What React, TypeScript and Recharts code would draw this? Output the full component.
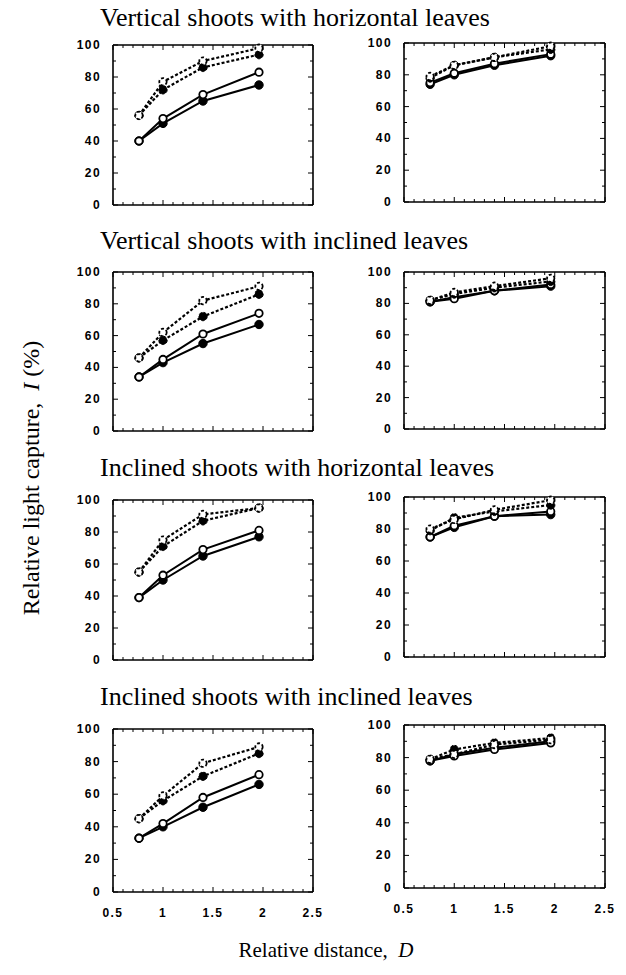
import React from "react";
import { LineChart, Line, XAxis, YAxis } from "recharts";

// relative distance D of the four simulated spacings
const distance = [0.76, 1.0, 1.4, 1.96];
const xTicks = [0.5, 0.6, 0.7, 0.8, 0.9, 1, 1.1, 1.2, 1.3, 1.4, 1.5, 1.6, 1.7, 1.8, 1.9, 2, 2.1, 2.2, 2.3, 2.4, 2.5];
const yTicks = [0, 10, 20, 30, 40, 50, 60, 70, 80, 90, 100];

const rowTitles = [
  "Vertical shoots with horizontal leaves",
  "Vertical shoots with inclined leaves",
  "Inclined shoots with horizontal leaves",
  "Inclined shoots with inclined leaves",
];

// row 1
const p1DashOpen = [56, 77, 90, 98];
const p1DashFilled = [56, 72, 86, 94];
const p1SolidOpen = [40, 54, 69, 83];
const p1SolidFilled = [40, 51, 65, 75];
const p2DashOpen = [79, 86, 91, 98];
const p2DashFilled = [78, 86, 91, 96];
const p2SolidOpen = [75, 81, 87, 93];
const p2SolidFilled = [74, 80, 86, 92];
// row 2
const p3DashOpen = [46, 62, 82, 91];
const p3DashFilled = [46, 57, 72, 86];
const p3SolidOpen = [34, 45, 61, 74];
const p3SolidFilled = [34, 43, 55, 67];
const p4DashOpen = [82, 87, 91, 96];
const p4DashFilled = [82, 86, 90, 94];
const p4SolidOpen = [81, 83, 88, 92];
const p4SolidFilled = [81, 84, 88, 91];
// row 3
const p5DashOpen = [55, 75, 91, 95];
const p5DashFilled = [55, 71, 87, 95];
const p5SolidOpen = [39, 53, 69, 81];
const p5SolidFilled = [39, 50, 65, 77];
const p6DashOpen = [80, 86, 92, 98];
const p6DashFilled = [79, 87, 91, 95];
const p6SolidOpen = [75, 82, 88, 91];
const p6SolidFilled = [75, 81, 88, 89];
// row 4
const p7DashOpen = [45, 59, 79, 89];
const p7DashFilled = [45, 56, 71, 85];
const p7SolidOpen = [33, 42, 58, 72];
const p7SolidFilled = [33, 40, 52, 66];
const p8DashOpen = [79, 82, 88, 91];
const p8DashFilled = [79, 85, 89, 92];
const p8SolidOpen = [78, 81, 85, 89];
const p8SolidFilled = [78, 82, 86, 90];

const panels = [
  [p1DashOpen, p1DashFilled, p1SolidOpen, p1SolidFilled],
  [p2DashOpen, p2DashFilled, p2SolidOpen, p2SolidFilled],
  [p3DashOpen, p3DashFilled, p3SolidOpen, p3SolidFilled],
  [p4DashOpen, p4DashFilled, p4SolidOpen, p4SolidFilled],
  [p5DashOpen, p5DashFilled, p5SolidOpen, p5SolidFilled],
  [p6DashOpen, p6DashFilled, p6SolidOpen, p6SolidFilled],
  [p7DashOpen, p7DashFilled, p7SolidOpen, p7SolidFilled],
  [p8DashOpen, p8DashFilled, p8SolidOpen, p8SolidFilled],
];

// plot-area frames (page px)
const colLeft = [113, 404];
const colWidth = [200, 201];
const leftTops = [45, 272, 500, 729];
const leftBottoms = [205, 431, 660, 892];
const rightTops = [43, 272, 497, 725];
const rightBottoms = [202, 429, 657, 888];
const titleCenters = [18, 241, 468, 697];

const mL = 48;
const mR = 16;
const mT = 9;

const labelFont = "'Liberation Sans', Arial, sans-serif";
const serif = "'Liberation Serif', 'Times New Roman', serif";

const isMajorX = (v: number) => Math.abs(v * 2 - Math.round(v * 2)) < 1e-6;

const bottomTick = (showLabels: boolean) => (props: any) => {
  const { x, y, payload } = props;
  const major = isMajorX(payload.value);
  return (
    <g>
      <line x1={x} x2={x} y1={y} y2={y - (major ? 5 : 3)} stroke="#000" strokeWidth={1} />
      {showLabels && major && (
        <text x={x} y={y + 25} textAnchor="middle" fontFamily={labelFont} fontSize={12} fontWeight={700} letterSpacing={1.4} fill="#000">
          {String(payload.value)}
        </text>
      )}
    </g>
  );
};

const topTick = (props: any) => {
  const { x, y, payload } = props;
  const major = isMajorX(payload.value);
  return <line x1={x} x2={x} y1={y} y2={y + (major ? 5 : 3)} stroke="#000" strokeWidth={1} />;
};

const leftTick = (props: any) => {
  const { x, y, payload } = props;
  const major = payload.value % 20 === 0;
  return (
    <g>
      <line x1={x} x2={x + (major ? 5 : 3)} y1={y} y2={y} stroke="#000" strokeWidth={1} />
      {major && (
        <text x={x - 12} y={y + 4} textAnchor="end" fontFamily={labelFont} fontSize={12} fontWeight={700} letterSpacing={1.4} fill="#000">
          {String(payload.value)}
        </text>
      )}
    </g>
  );
};

const rightTick = (props: any) => {
  const { x, y, payload } = props;
  const major = payload.value % 20 === 0;
  return <line x1={x} x2={x - (major ? 5 : 3)} y1={y} y2={y} stroke="#000" strokeWidth={1} />;
};

const frame = { stroke: "#000", strokeWidth: 1.6 };

function Panel({ index }: { index: number }) {
  const row = Math.floor(index / 2);
  const col = index % 2;
  const [dashOpen, dashFilled, solidOpen, solidFilled] = panels[index];
  const data = distance.map((d, i) => ({
    d,
    dashOpen: dashOpen[i],
    dashFilled: dashFilled[i],
    solidOpen: solidOpen[i],
    solidFilled: solidFilled[i],
  }));
  const top = col === 0 ? leftTops[row] : rightTops[row];
  const bottom = col === 0 ? leftBottoms[row] : rightBottoms[row];
  const plotH = bottom - top;
  const plotW = colWidth[col];
  const isLast = row === 3;
  const mB = isLast ? 34 : 9;

  const filledDot = { r: 4.2, fill: "#000", stroke: "#000", strokeWidth: 1 };
  const openDot = { r: 3.7, fill: "#fff", stroke: "#000", strokeWidth: 1.8 };

  // each frame axis takes 1px on its side
  return (
    <div style={{ position: "absolute", left: colLeft[col] - mL - 1, top: top - mT - 1 }}>
      <LineChart
        width={plotW + mL + mR + 2}
        height={plotH + mT + mB + 2}
        data={data}
        margin={{ top: mT, right: mR, bottom: mB, left: mL }}
      >
        <XAxis
          dataKey="d"
          type="number"
          domain={[0.5, 2.5]}
          ticks={xTicks}
          interval={0}
          height={1}
          tickSize={0}
          tickMargin={0}
          axisLine={frame}
          tick={bottomTick(isLast)}
        />
        <XAxis
          xAxisId="top"
          orientation="top"
          dataKey="d"
          type="number"
          domain={[0.5, 2.5]}
          ticks={xTicks}
          interval={0}
          height={1}
          tickSize={0}
          tickMargin={0}
          axisLine={frame}
          tick={topTick}
        />
        <YAxis
          type="number"
          domain={[0, 100]}
          ticks={yTicks}
          interval={0}
          width={1}
          tickSize={0}
          tickMargin={0}
          axisLine={frame}
          tick={leftTick}
        />
        <YAxis
          yAxisId="right"
          orientation="right"
          type="number"
          domain={[0, 100]}
          ticks={yTicks}
          interval={0}
          width={1}
          tickSize={0}
          tickMargin={0}
          axisLine={frame}
          tick={rightTick}
        />
        <Line xAxisId="top" yAxisId="right" dataKey="dashOpen" stroke="none" dot={false} isAnimationActive={false} />
        <Line type="linear" dataKey="solidFilled" stroke="#000" strokeWidth={2} dot={filledDot} isAnimationActive={false} />
        <Line type="linear" dataKey="solidOpen" stroke="#000" strokeWidth={2} dot={openDot} isAnimationActive={false} />
        <Line type="linear" dataKey="dashFilled" stroke="#000" strokeWidth={2.2} strokeDasharray="3 2" dot={filledDot} isAnimationActive={false} />
        <Line type="linear" dataKey="dashOpen" stroke="#000" strokeWidth={2.2} strokeDasharray="3 2" dot={openDot} isAnimationActive={false} />
      </LineChart>
    </div>
  );
}

export default function App() {
  return (
    <div style={{ position: "absolute", left: 0, top: 0, width: 626, height: 975, background: "#fff" }}>
      {panels.map((_, i) => (
        <Panel key={i} index={i} />
      ))}
      {rowTitles.map((t, i) => (
        <div
          key={t}
          style={{
            position: "absolute",
            left: 100,
            top: titleCenters[i] - 14,
            height: 28,
            lineHeight: "28px",
            fontFamily: serif,
            fontSize: 26,
            whiteSpace: "nowrap",
            color: "#000",
          }}
        >
          {t}
        </div>
      ))}
      <div
        style={{
          position: "absolute",
          left: 31,
          top: 478,
          transform: "translate(-50%, -50%) rotate(-90deg)",
          fontFamily: serif,
          fontSize: 24,
          whiteSpace: "nowrap",
          color: "#000",
        }}
      >
        Relative light capture,&nbsp; <i>I</i> (%)
      </div>
      <div
        style={{
          position: "absolute",
          left: 326,
          top: 950,
          transform: "translate(-50%, -50%)",
          fontFamily: serif,
          fontSize: 21,
          whiteSpace: "nowrap",
          color: "#000",
        }}
      >
        Relative distance,&nbsp; <i>D</i>
      </div>
    </div>
  );
}
